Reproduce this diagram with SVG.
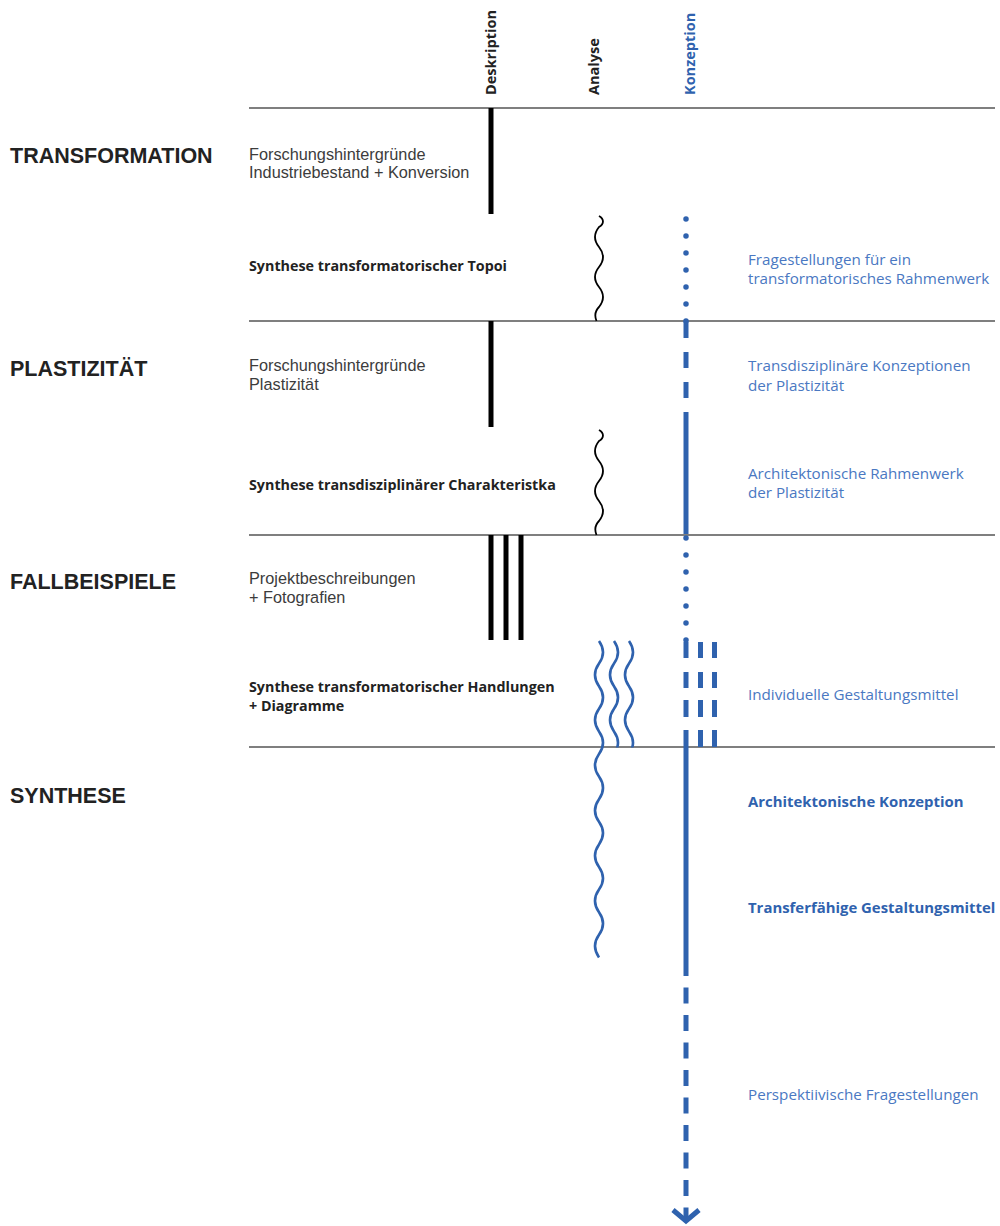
<svg xmlns="http://www.w3.org/2000/svg" width="1000" height="1226" viewBox="0 0 1000 1226">
  <style>
    .sec { font-family: "Liberation Sans", Arial, sans-serif; font-weight: bold; font-size: 21.5px; fill: #222; }
    .desc { font-family: "Liberation Sans", Arial, sans-serif; font-size: 16.3px; fill: #3c3c3c; }
    .syn { font-family: "Open Sans", Lato, sans-serif; font-weight: bold; font-size: 14.3px; fill: #222; }
    .col { font-family: "Open Sans", Lato, sans-serif; font-weight: bold; font-size: 14.5px; fill: #222; }
    .colb { font-family: "Open Sans", Lato, sans-serif; font-weight: bold; font-size: 14.5px; fill: #2f62ae; }
    .bl { font-family: "Open Sans", Lato, sans-serif; font-size: 15.2px; fill: #4a78c2; }
    .blb { font-family: "Open Sans", Lato, sans-serif; font-weight: bold; font-size: 14.9px; fill: #2f62ae; }
    .rule { stroke: #555; stroke-width: 1.5; fill: none; }
    .bar { stroke: #000; stroke-width: 5; fill: none; }
    .wk { stroke: #000; stroke-width: 1.8; fill: none; }
    .wb { stroke: #2f62ae; stroke-width: 2.6; fill: none; }
    .kz { stroke: #2f62ae; stroke-width: 5; fill: none; }
    .dots { stroke: #2f62ae; stroke-width: 5.5; stroke-linecap: round; stroke-dasharray: 0 17; fill: none; }
  </style>
  <defs>
    <clipPath id="clipF">
      <rect x="590" y="600" width="60" height="147.5"/>
    </clipPath>
    <path id="waveK" d="M599,216 c5.3,3 5.3,8 0,11 c-5.33,6.67 -5.33,13.33 0,20 c5.33,6.67 5.33,13.33 0,20 c-5.33,6.67 -5.33,13.33 0,20 c5.33,6.67 5.33,13.33 0,20 c-4,4 -4.5,9 -2.5,14"/>
    <path id="waveB" d="M599,641 c5.33,7.53 5.33,15.07 0,22.6 c-5.33,7.53 -5.33,15.07 0,22.6 c5.33,7.53 5.33,15.07 0,22.6 c-5.33,7.53 -5.33,15.07 0,22.6 c5.33,7.53 5.33,15.07 0,22.6 c-5.33,7.53 -5.33,15.07 0,22.6 c5.33,7.53 5.33,15.07 0,22.6 c-5.33,7.53 -5.33,15.07 0,22.6 c5.33,7.53 5.33,15.07 0,22.6 c-5.33,7.53 -5.33,15.07 0,22.6 c5.33,7.53 5.33,15.07 0,22.6 c-5.33,7.53 -5.33,15.07 0,22.6 c5.33,7.53 5.33,15.07 0,22.6 c-5.33,7.53 -5.33,15.07 0,22.6"/>
  </defs>
  <rect width="1000" height="1226" fill="#fff"/>

  <g id="columns">
    <text class="col" transform="translate(496,95) rotate(-90)">Deskription</text>
    <text class="col" transform="translate(599,95) rotate(-90)">Analyse</text>
    <text class="colb" transform="translate(695,95) rotate(-90)">Konzeption</text>
  </g>

  <g id="rules">
    <line class="rule" x1="249" y1="108" x2="995" y2="108"/>
    <line class="rule" x1="249" y1="321" x2="995" y2="321"/>
    <line class="rule" x1="249" y1="535" x2="995" y2="535"/>
    <line class="rule" x1="249" y1="747" x2="995" y2="747"/>
  </g>

  <g id="transformation">
    <text class="sec" x="10" y="163">TRANSFORMATION</text>
    <text class="desc" x="249" y="160">Forschungshintergründe</text>
    <text class="desc" x="249" y="178">Industriebestand + Konversion</text>
    <text class="syn" x="249" y="271">Synthese transformatorischer Topoi</text>
    <text class="bl" x="748" y="265">Fragestellungen für ein</text>
    <text class="bl" x="748" y="284">transformatorisches Rahmenwerk</text>
  </g>

  <g id="plastizitaet">
    <text class="sec" x="10" y="376">PLASTIZITÄT</text>
    <text class="desc" x="249" y="371">Forschungshintergründe</text>
    <text class="desc" x="249" y="390">Plastizität</text>
    <text class="syn" x="249" y="490">Synthese transdisziplinärer Charakteristka</text>
    <text class="bl" x="748" y="371">Transdisziplinäre Konzeptionen</text>
    <text class="bl" x="748" y="391">der Plastizität</text>
    <text class="bl" x="748" y="479">Architektonische Rahmenwerk</text>
    <text class="bl" x="748" y="498">der Plastizität</text>
  </g>

  <g id="fallbeispiele">
    <text class="sec" x="10" y="589">FALLBEISPIELE</text>
    <text class="desc" x="249" y="584">Projektbeschreibungen</text>
    <text class="desc" x="249" y="603">+ Fotografien</text>
    <text class="syn" x="249" y="692">Synthese transformatorischer Handlungen</text>
    <text class="syn" x="249" y="711">+ Diagramme</text>
    <text class="bl" x="748" y="700">Individuelle Gestaltungsmittel</text>
  </g>

  <g id="synthese">
    <text class="sec" x="10" y="803">SYNTHESE</text>
    <text class="blb" x="748" y="807">Architektonische Konzeption</text>
    <text class="blb" x="748" y="913">Transferfähige Gestaltungsmittel</text>
    <text class="bl" x="748" y="1100">Perspektiivische Fragestellungen</text>
  </g>

  <g id="connectors">
    <!-- Deskription -->
    <line class="bar" x1="491" y1="108" x2="491" y2="214"/>
    <line class="bar" x1="491" y1="321" x2="491" y2="427"/>
    <line class="bar" x1="491" y1="535" x2="491" y2="640"/>
    <line class="bar" x1="506" y1="535" x2="506" y2="640"/>
    <line class="bar" x1="521" y1="535" x2="521" y2="640"/>
    <!-- Analyse -->
    <use href="#waveK" class="wk"/>
    <use href="#waveK" class="wk" transform="translate(0,214)"/>
    <use href="#waveB" class="wb"/>
    <g clip-path="url(#clipF)">
      <use href="#waveB" class="wb" transform="translate(15,0)"/>
      <use href="#waveB" class="wb" transform="translate(30,0)"/>
    </g>
    <!-- Konzeption -->
    <line class="dots" x1="686" y1="219" x2="686" y2="322"/>
    <line class="kz" x1="686" y1="321" x2="686" y2="338"/>
    <line class="kz" x1="686" y1="352" x2="686" y2="368"/>
    <line class="kz" x1="686" y1="382" x2="686" y2="398"/>
    <line class="kz" x1="686" y1="412" x2="686" y2="534"/>
    <line class="dots" x1="686" y1="538" x2="686" y2="641"/>
    <line class="kz" x1="686" y1="642" x2="686" y2="658"/>
    <line class="kz" x1="686" y1="672" x2="686" y2="688"/>
    <line class="kz" x1="686" y1="700" x2="686" y2="717"/>
    <line class="kz" x1="686" y1="730" x2="686" y2="960"/>
    <line class="kz" x1="700.5" y1="642" x2="700.5" y2="658"/>
    <line class="kz" x1="700.5" y1="672" x2="700.5" y2="688"/>
    <line class="kz" x1="700.5" y1="700" x2="700.5" y2="717"/>
    <line class="kz" x1="700.5" y1="730" x2="700.5" y2="747"/>
    <line class="kz" x1="714.5" y1="642" x2="714.5" y2="658"/>
    <line class="kz" x1="714.5" y1="672" x2="714.5" y2="688"/>
    <line class="kz" x1="714.5" y1="700" x2="714.5" y2="717"/>
    <line class="kz" x1="714.5" y1="730" x2="714.5" y2="747"/>
    <line class="kz" x1="686" y1="960" x2="686" y2="1222" stroke-dasharray="16 11.5"/>
    <polyline class="kz" points="673,1210 686,1221 699,1210" stroke-linejoin="miter"/>
  </g>
</svg>
